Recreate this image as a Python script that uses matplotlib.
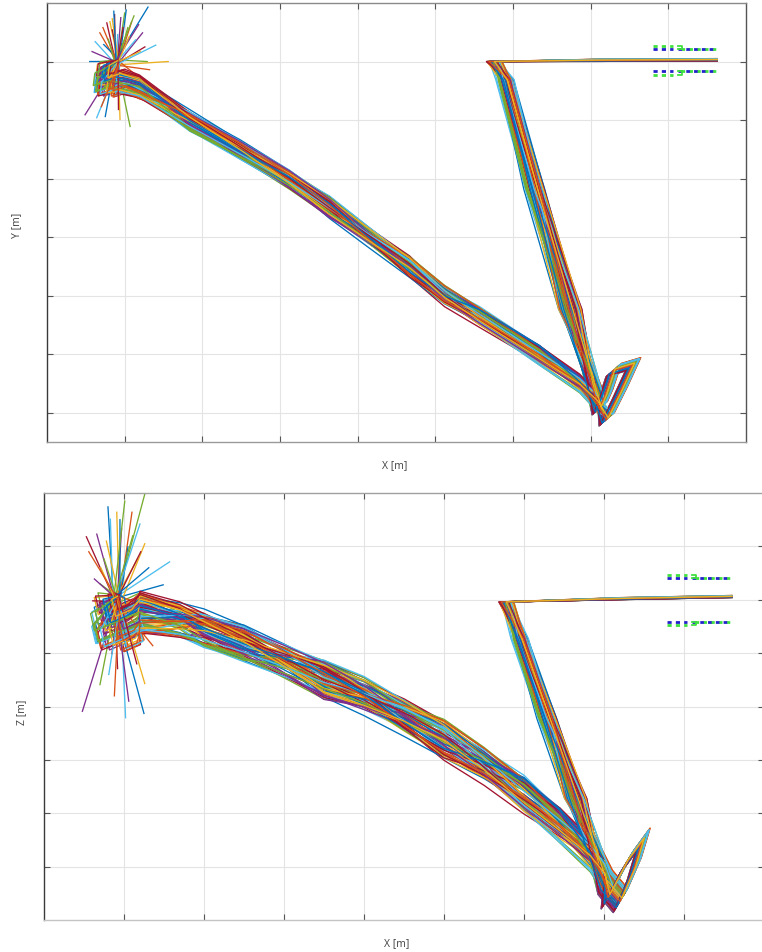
import numpy as np
import matplotlib
matplotlib.use("Agg")
import matplotlib.pyplot as plt

plt.rcParams["font.family"] = ["Open Sans", "DejaVu Sans"]
plt.rcParams["lines.scale_dashes"] = False

# MATLAB default line colour order
COLORS = ['#0072BD', '#D95319', '#EDB120', '#7E2F8E', '#77AC30', '#4DBEEE', '#A2142F']

# ---- mean path of the demonstrations, XY view (m) ----
XY_START_X = [-0.010, -0.023, -0.025, -0.009]
XY_START_Y = [-0.002, -0.020, -0.041, -0.034]
XY_BAND_X = [0.019, 0.052, 0.084, 0.148, 0.212, 0.264, 0.315, 0.367, 0.412, 0.457, 0.534, 0.586, 0.609]
XY_BAND_Y = [-0.044, -0.073, -0.101, -0.150, -0.201, -0.249, -0.300, -0.351, -0.400, -0.436, -0.501, -0.550, -0.584]
XY_HOOK_X = [0.620, 0.637, 0.654, 0.629, 0.618, 0.611]
XY_HOOK_Y = [-0.612, -0.567, -0.518, -0.528, -0.572, -0.593]
XY_STEEP_X = [0.573, 0.528, 0.490, 0.476]
XY_STEEP_Y = [-0.423, -0.218, -0.031, 0.000]
XY_TOP_X = [0.611, 0.763]
XY_TOP_Y = [0.002, 0.003]

# ---- mean path of the demonstrations, XZ view (m) ----
XZ_START_X = [-0.009, -0.020, -0.015, 0.005]
XZ_START_Z = [0.000, -0.026, -0.058, -0.045]
XZ_BAND_X = [0.020, 0.070, 0.100, 0.150, 0.200, 0.250, 0.300, 0.350, 0.400, 0.450, 0.500, 0.545, 0.583, 0.601]
XZ_BAND_Z = [-0.026, -0.039, -0.054, -0.082, -0.114, -0.148, -0.179, -0.219, -0.262, -0.310, -0.365, -0.421, -0.478, -0.522]
XZ_HOOK_X = [0.605, 0.628, 0.648, 0.637, 0.620, 0.601]
XZ_HOOK_Z = [-0.558, -0.493, -0.452, -0.507, -0.565, -0.531]
XZ_STEEP_X = [0.564, 0.529, 0.495, 0.478]
XZ_STEEP_Z = [-0.372, -0.222, -0.073, -0.004]
XZ_TOP_X = [0.620, 0.760]
XZ_TOP_Z = [0.002, 0.006]

# ---- per-demonstration deviations from the mean path (m) ----
OFF_A = [0.004, -0.007, 0.011, -0.002, 0.008, -0.012, 0.001, 0.006, -0.009, 0.013,
         -0.004, 0.009, -0.011, 0.003, -0.006, 0.012, -0.001, 0.007, -0.013, 0.005,
         -0.008, 0.010, 0.000, -0.005, 0.014, -0.010, 0.002, 0.008, -0.003, 0.011,
         -0.007, 0.004, -0.012, 0.006, -0.002, 0.009, -0.009, 0.001, 0.013, -0.006]
OFF_B = [-0.009, 0.006, -0.003, 0.012, -0.011, 0.004, 0.010, -0.006, 0.002, -0.013,
         0.008, -0.001, 0.005, -0.010, 0.013, -0.004, 0.009, -0.012, 0.003, 0.007,
         -0.008, 0.001, 0.011, -0.005, -0.002, 0.006, -0.014, 0.010, 0.004, -0.007,
         0.012, -0.003, 0.008, -0.011, 0.000, 0.005, 0.009, -0.006, -0.001, 0.003]
OFF_C = [0.007, 0.002, -0.010, -0.005, 0.012, 0.009, -0.007, 0.000, 0.011, -0.003,
         -0.012, 0.006, 0.003, 0.008, -0.009, 0.001, -0.004, 0.010, 0.005, -0.011,
         0.013, -0.006, -0.002, 0.009, -0.008, 0.004, 0.007, -0.013, 0.011, 0.002,
         -0.005, 0.010, -0.001, 0.006, -0.010, 0.012, -0.003, 0.008, -0.007, 0.000]
OFF_D = [-0.011, 0.008, 0.003, -0.006, 0.010, -0.002, -0.013, 0.005, 0.012, -0.008,
         0.001, 0.007, -0.004, 0.011, -0.010, 0.006, -0.001, -0.007, 0.009, 0.002,
         -0.012, 0.013, -0.005, 0.004, 0.008, -0.009, 0.000, -0.003, 0.010, 0.006,
         -0.011, 0.003, 0.007, -0.006, 0.012, -0.004, 0.001, -0.010, 0.005, 0.009]
OFF_E = [0.006, -0.010, -0.004, 0.009, 0.001, 0.012, -0.008, -0.002, 0.005, 0.010,
         -0.013, 0.003, 0.008, -0.006, 0.000, -0.011, 0.011, 0.004, -0.009, -0.003,
         0.007, 0.002, -0.012, 0.013, -0.005, -0.001, 0.009, 0.006, -0.007, 0.012,
         0.003, -0.008, -0.010, 0.001, 0.008, -0.004, 0.010, -0.002, 0.004, -0.009]
OFF_S = [0.003, -0.006, 0.009, 0.000, -0.010, 0.006, -0.003, 0.011, -0.008, 0.002,
         0.007, -0.005, 0.010, -0.001, 0.004, -0.009, 0.008, -0.004, 0.001, 0.012,
         -0.007, 0.005, -0.011, 0.009, -0.002, 0.003, 0.010, -0.006, 0.006, -0.008,
         0.000, 0.011, -0.003, 0.007, -0.010, 0.002, 0.008, -0.005, 0.004, -0.001]
OFF_H = [0.002, -0.004, 0.006, -0.001, 0.005, -0.006, 0.003, 0.000, -0.003, 0.007,
         -0.005, 0.004, 0.001, -0.007, 0.006, -0.002, 0.003, -0.004, 0.008, -0.001,
         0.002, -0.006, 0.005, 0.000, -0.003, 0.004, -0.005, 0.007, -0.002, 0.001,
         0.006, -0.004, 0.003, -0.007, 0.002, 0.005, -0.001, 0.004, -0.006, 0.000]

NAN = float("nan")
# first (outlier) sample of each demonstration, relative to the start point (m)
XY_TIP_DX = [0.040, -0.009, 0.010, -0.003, 0.019, 0.033, -0.028, -0.035, 0.066, 0.039,
             0.036, 0.059, -0.041, -0.026, -0.015, 0.004, 0.017, -0.013, -0.022, 0.005,
             0.024, -0.017, 0.030, 0.014, -0.006, 0.042, -0.032, 0.001, 0.012, -0.006,
             0.022, 0.008, -0.018, 0.028, 0.050, -0.004, 0.016, -0.011, 0.002, -0.020]
XY_TIP_DY = [0.095, 0.070, 0.085, 0.082, 0.070, 0.051, 0.036, 0.002, 0.002, 0.002,
             0.027, -0.058, -0.089, -0.094, -0.092, -0.097, -0.109, 0.068, 0.051, 0.077,
             0.039, 0.031, 0.019, 0.060, 0.056, -0.012, 0.019, 0.048, 0.090, 0.075,
             0.080, 0.060, 0.060, 0.065, 0.030, 0.088, 0.045, 0.040, -0.080, -0.075]
XZ_TIP_DX = [-0.011, 0.000, 0.035, -0.038, 0.019, -0.025, 0.066, 0.058, 0.035, -0.021,
             -0.030, 0.023, -0.043, 0.011, 0.034, 0.035, -0.021, 0.001, 0.045, 0.006,
             -0.008, 0.014, 0.026, -0.016, -0.006, 0.019, -0.028, 0.029, 0.004, -0.013,
             0.020, 0.030, -0.003, 0.015, -0.010, 0.040, -0.020, 0.010, 0.025, -0.035]
XZ_TIP_DZ = [0.174, 0.164, 0.198, 0.118, 0.164, 0.123, 0.071, 0.028, 0.105, 0.030,
             -0.002, -0.004, -0.209, -0.221, -0.213, -0.157, -0.159, -0.129, -0.086, 0.133,
             0.151, 0.099, 0.077, 0.077, -0.101, -0.073, 0.039, 0.142, 0.150, 0.110,
             0.120, 0.090, -0.180, -0.190, -0.140, 0.060, 0.060, 0.185, -0.120, 0.090]

N_DEMOS = len(OFF_A)

# two recording sessions; the second one re-uses the deviation tables in a rotated role
SESSIONS = [
    dict(a=OFF_A, b=OFF_B, c=OFF_C, d=OFF_D, e=OFF_E, s=OFF_S, h=OFF_H, tips=True),
    dict(a=OFF_D, b=OFF_E, c=OFF_A, d=OFF_B, e=OFF_C, s=OFF_S[::-1], h=OFF_H[::-1], tips=False),
]


def demo_path(i, sess, start, band, hook, steep, top, tip, spread, steep_spread):
    a, b, c = sess["a"][i], sess["b"][i], sess["c"][i]
    d, e = sess["d"][i], sess["e"][i]
    s, h = sess["s"][i], sess["h"][i]
    xs, ys = [], []
    if sess["tips"] and not np.isnan(tip[0][i]):
        xs.append(start[0][0] + tip[0][i])
        ys.append(start[1][0] + tip[1][i])
    for k, (x, y) in enumerate(zip(*start)):
        w = 0.25 if k == 0 else 1.0
        xs.append(x + w * 0.9 * d * spread ** 0.5)
        ys.append(y + w * a * spread)
    n = len(band[0])
    t = np.linspace(0.0, 1.0, n)
    dy = np.interp(t, [0.0, 0.2, 0.4, 0.6, 0.8, 1.0], [a, d, b, e, c, s]) * spread
    for x, y, dd in zip(band[0], band[1], dy):
        xs.append(x)
        ys.append(y + dd)
    for x, y in zip(*hook):
        xs.append(x + h * steep_spread)
        ys.append(y + h * spread)
    m = len(steep[0])
    dx = np.interp(np.linspace(0.0, 1.0, m), [0.0, 0.5, 1.0], [s, 0.9 * d, 0.6 * e]) * steep_spread
    for x, y, dd in zip(steep[0], steep[1], dx):
        xs.append(x + dd)
        ys.append(y)
    for x, y in zip(*top):
        xs.append(x)
        ys.append(y + 0.25 * h)
    return xs, ys


fig = plt.figure(figsize=(7.62, 9.53), dpi=100)
ax1 = fig.add_axes([0.0617, 0.5352, 0.9173, 0.4606])
ax2 = fig.add_axes([0.0577, 0.0336, 0.9449, 0.4480])

panels = [
    (ax1, (XY_START_X, XY_START_Y), (XY_BAND_X, XY_BAND_Y), (XY_HOOK_X, XY_HOOK_Y),
     (XY_STEEP_X, XY_STEEP_Y), (XY_TOP_X, XY_TOP_Y), (XY_TIP_DX, XY_TIP_DY), 1.5, 1.3),
    (ax2, (XZ_START_X, XZ_START_Z), (XZ_BAND_X, XZ_BAND_Z), (XZ_HOOK_X, XZ_HOOK_Z),
     (XZ_STEEP_X, XZ_STEEP_Z), (XZ_TOP_X, XZ_TOP_Z), (XZ_TIP_DX, XZ_TIP_DZ), 3.0, 1.2),
]

for ax, start, band, hook, steep, top, tip, spread, steep_spread in panels:
    count = 0
    for i in range(N_DEMOS):
        for sess in SESSIONS:
            x, y = demo_path(i, sess, start, band, hook, steep, top, tip, spread, steep_spread)
            ax.plot(x, y, color=COLORS[count % len(COLORS)], lw=0.95,
                    solid_joinstyle="round")
            count += 1

ax1.set_xlim(-0.1, 0.8)
ax1.set_ylim(-0.65, 0.1)
ax1.set_yticks(np.arange(-0.6, 0.01, 0.1))
ax2.set_xlim(-0.1, 0.8)
ax2.set_ylim(-0.6, 0.2)
ax2.set_yticks(np.arange(-0.5, 0.11, 0.1))

for ax in (ax1, ax2):
    ax.set_xticks(np.arange(0.0, 0.71, 0.1))
    ax.grid(True, color="#e4e4e4", lw=0.8)
    ax.set_axisbelow(True)
    ax.tick_params(direction="in", length=4, width=0.8, color="#555555",
                   top=True, right=True, labelbottom=False, labelleft=False)
    ax.spines["left"].set_color("#3a3a3a")
    ax.spines["right"].set_color("#555555")

ax1.spines["top"].set_color("#8a8a8a")
ax1.spines["bottom"].set_color("#9a9a9a")
ax2.spines["top"].set_color("#a0a0a0")
ax2.spines["bottom"].set_color("#c4c4c4")
ax2.spines["right"].set_visible(False)
for ax in (ax1, ax2):
    for sp in ax.spines.values():
        sp.set_linewidth(1.0)


# small dashed legend glyphs in the upper right of each view
def legend_glyph(x0, x1, y_row, green_first):
    W, H = 762.0, 953.0
    fx = lambda px: px / W
    fy = lambda py: 1.0 - py / H
    yg, yb = (y_row - 1.6, y_row + 1.6) if green_first else (y_row + 1.6, y_row - 1.6)
    xm = x0 + 20
    fig.add_artist(plt.Line2D([fx(x0), fx(xm)], [fy(yg), fy(yg)], color="#3fe03f",
                              lw=2.0, linestyle=(0, (3.0, 3.0))))
    fig.add_artist(plt.Line2D([fx(x0), fx(xm)], [fy(yb), fy(yb)], color="#2222cc",
                              lw=2.0, linestyle=(0, (3.0, 3.0))))
    xs = x0 + 25
    fig.add_artist(plt.Line2D([fx(xs), fx(x1)], [fy(yb), fy(yb)], color="#2222cc",
                              lw=2.0, linestyle=(0, (3.0, 2.6))))
    fig.add_artist(plt.Line2D([fx(xs), fx(x1)], [fy(yb), fy(yb)], color="#3fe03f",
                              lw=2.0, linestyle=(3.0, (2.2, 3.4))))
    fig.add_artist(plt.Line2D([fx(xs), fx(xs + 4), fx(xs + 4), fx(xs)],
                              [fy(yg), fy(yg), fy(yb), fy(yb)], color="#3fe03f", lw=1.3))


legend_glyph(653, 716, 48.5, True)
legend_glyph(653, 716, 74.0, False)
legend_glyph(667, 730, 577.5, True)
legend_glyph(667, 730, 624.5, False)

label_kw = dict(fontsize=7.5, color="#404040", ha="center", va="center")
fig.text(395 / 762, 1 - 466 / 953, "X [m]", **label_kw)
fig.text(17 / 762, 1 - 225 / 953, "Y [m]", rotation=90, **label_kw)
fig.text(397 / 762, 1 - 944 / 953, "X [m]", **label_kw)
fig.text(22 / 762, 1 - 712 / 953, "Z [m]", rotation=90, **label_kw)

fig.savefig("out.png", dpi=100)
